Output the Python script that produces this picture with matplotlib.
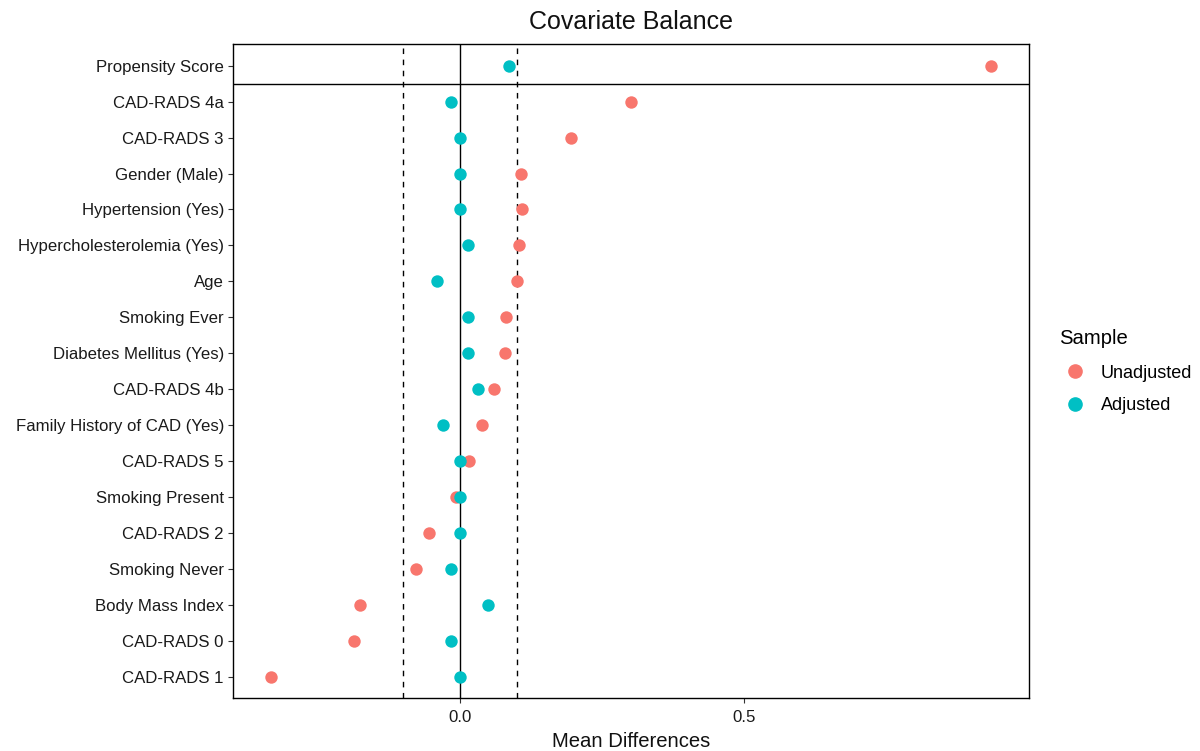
import matplotlib
matplotlib.use("Agg")
import matplotlib.pyplot as plt
from matplotlib.lines import Line2D

plt.rcParams['font.family'] = ['Liberation Sans', 'DejaVu Sans']

covariates = ["Propensity Score", "CAD-RADS 4a", "CAD-RADS 3", "Gender (Male)",
              "Hypertension (Yes)", "Hypercholesterolemia (Yes)", "Age", "Smoking Ever",
              "Diabetes Mellitus (Yes)", "CAD-RADS 4b", "Family History of CAD (Yes)",
              "CAD-RADS 5", "Smoking Present", "CAD-RADS 2", "Smoking Never",
              "Body Mass Index", "CAD-RADS 0", "CAD-RADS 1"]
unadjusted = [0.935, 0.301, 0.195, 0.107, 0.109, 0.104, 0.100, 0.081, 0.079, 0.060,
              0.039, 0.016, -0.007, -0.055, -0.077, -0.176, -0.187, -0.333]
adjusted = [0.086, -0.016, 0.0, 0.0, 0.0, 0.014, -0.040, 0.014, 0.014, 0.032,
            -0.030, 0.0, 0.0, 0.0, -0.016, 0.049, -0.016, 0.0]
threshold = 0.1
xticks = [0.0, 0.5]
xtick_labels = ["0.0", "0.5"]

col_un = "#F8766D"
col_ad = "#00BFC4"

fig = plt.figure(figsize=(12, 7.51), dpi=100)
ax = fig.add_axes([233/1200, 1 - 698/751, (1029-233)/1200, (698-44)/751])

n = len(covariates)
ypos = [n - 1 - i for i in range(n)]

ax.axvline(0, color="black", lw=1.0, zorder=1)
ax.axvline(-threshold, color="black", lw=1.0, ls=(0, (4, 4)), zorder=1)
ax.axvline(threshold, color="black", lw=1.0, ls=(0, (4, 4)), zorder=1)
ax.axhline(n - 1.5, color="black", lw=1.0, zorder=1)

ax.scatter(unadjusted, ypos, s=80, color=col_un, zorder=3, linewidths=0)
ax.scatter(adjusted, ypos, s=80, color=col_ad, zorder=4, linewidths=0)

ax.set_xlim(-0.400, 1.002)
ax.set_ylim(-0.58, n - 1 + 0.6)
ax.set_yticks(ypos)
ax.set_yticklabels(covariates)
ax.set_xticks(xticks)
ax.set_xticklabels(xtick_labels)
ax.tick_params(axis="both", labelsize=12.1, labelcolor="#1a1a1a", color="#333333",
               length=3.5, width=0.8)
ax.tick_params(axis="x", pad=5)
ax.tick_params(axis="y", pad=3)
for s in ax.spines.values():
    s.set_linewidth(1.0)
    s.set_color("black")

ax.set_xlabel("Mean Differences", fontsize=14.6, color="#111111", labelpad=5)
ax.set_title("Covariate Balance", fontsize=18, color="#111111", pad=11)

handles = [Line2D([], [], marker="o", ls="none", color=col_un, markersize=9.5),
           Line2D([], [], marker="o", ls="none", color=col_ad, markersize=9.5)]
leg = fig.legend(handles, ["Unadjusted", "Adjusted"], title="Sample",
                 loc="upper left", bbox_to_anchor=(1059/1200, 1 - 329/751),
                 frameon=False, fontsize=13, title_fontsize=14.6,
                 borderpad=0, borderaxespad=0, handlelength=1.8,
                 handletextpad=0.5, labelspacing=0.87)
leg._legend_box.align = "left"
leg._legend_box.sep = 12

fig.savefig("out.png", dpi=100)
